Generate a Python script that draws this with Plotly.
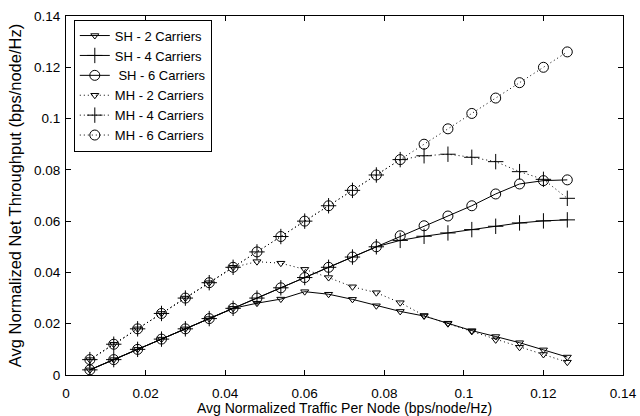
import plotly.graph_objects as go

traffic = [0.006, 0.012, 0.018, 0.024, 0.030, 0.036, 0.042, 0.048, 0.054, 0.060, 0.066,
           0.072, 0.078, 0.084, 0.090, 0.096, 0.102, 0.108, 0.114, 0.120, 0.126]

sh_2 = [0.002, 0.006, 0.010, 0.014, 0.018, 0.022, 0.026, 0.028, 0.0296, 0.0325, 0.0315,
        0.0295, 0.027, 0.0248, 0.0230, 0.0202, 0.0173, 0.0150, 0.0126, 0.0098, 0.0070]
sh_4 = [0.002, 0.006, 0.010, 0.014, 0.018, 0.022, 0.026, 0.030, 0.034, 0.038, 0.042,
        0.046, 0.050, 0.0525, 0.0541, 0.0554, 0.0567, 0.0580, 0.0593, 0.0601, 0.0605]
sh_6 = [0.002, 0.006, 0.010, 0.014, 0.018, 0.022, 0.026, 0.030, 0.034, 0.038, 0.042,
        0.046, 0.050, 0.0543, 0.0582, 0.0620, 0.0660, 0.0706, 0.0745, 0.0758, 0.0761]
mh_2 = [0.006, 0.012, 0.018, 0.024, 0.030, 0.036, 0.042, 0.0442, 0.0436, 0.0412, 0.038,
        0.0344, 0.0321, 0.0282, 0.0232, 0.0200, 0.0170, 0.0137, 0.0108, 0.0080, 0.0050]
mh_4 = [0.006, 0.012, 0.018, 0.024, 0.030, 0.036, 0.042, 0.048, 0.054, 0.060, 0.066,
        0.072, 0.078, 0.084, 0.0855, 0.0861, 0.0849, 0.0832, 0.0793, 0.0763, 0.0689]
mh_6 = [0.006, 0.012, 0.018, 0.024, 0.030, 0.036, 0.042, 0.048, 0.054, 0.060, 0.066,
        0.072, 0.078, 0.084, 0.090, 0.096, 0.102, 0.108, 0.114, 0.120, 0.126]

tick_vals = [0, 0.02, 0.04, 0.06, 0.08, 0.1, 0.12, 0.14]
tick_text = ["0", "0.02", "0.04", "0.06", "0.08", "0.1", "0.12", "0.14"]

series = [
    ("SH - 2 Carriers", sh_2, "solid", "triangle-down-open", 7),
    ("SH - 4 Carriers", sh_4, "solid", "cross-thin-open", 11),
    (" SH - 6 Carriers", sh_6, "solid", "circle-open", 10),
    ("MH - 2 Carriers", mh_2, "1px,3px", "triangle-down-open", 7),
    ("MH - 4 Carriers", mh_4, "1px,3px", "cross-thin-open", 11),
    ("MH - 6 Carriers", mh_6, "1px,3px", "circle-open", 10),
]

fig = go.Figure()
for name, ys, dash, sym, size in series:
    fig.add_trace(go.Scatter(
        x=traffic, y=ys, name=name, mode="lines+markers",
        line=dict(color="black", width=1, dash=dash),
        marker=dict(symbol=sym, size=size, color="black", line=dict(color="black", width=1)),
    ))

font = "Liberation Sans, Arial, sans-serif"
axis_common = dict(
    range=[0, 0.14], tickvals=tick_vals, ticktext=tick_text,
    showline=True, linecolor="black", linewidth=1, mirror="ticks",
    ticks="inside", ticklen=5, tickcolor="black", showgrid=False, zeroline=False,
    tickfont=dict(family=font, size=13.5, color="black"), automargin=False,
)
fig.update_xaxes(**axis_common, ticklabelstandoff=6,
                 title=dict(text="Avg Normalized Traffic Per Node (bps/node/Hz)",
                            font=dict(family=font, size=14, color="black"), standoff=0))
fig.update_yaxes(**axis_common, ticklabelstandoff=2,
                 title=dict(text="Avg Normalized Net Throughput (bps/node/Hz)",
                            font=dict(family=font, size=16.5, color="black"), standoff=8))

fig.update_layout(
    width=640, height=416,
    margin=dict(l=66, r=17, t=16, b=41),
    paper_bgcolor="white", plot_bgcolor="white",
    showlegend=True,
    legend=dict(x=0.014, y=0.99, xanchor="left", yanchor="top",
                bgcolor="white", bordercolor="black", borderwidth=1,
                font=dict(family=font, size=13, color="black"),
                tracegroupgap=0),
)

fig.write_html("out.html")
